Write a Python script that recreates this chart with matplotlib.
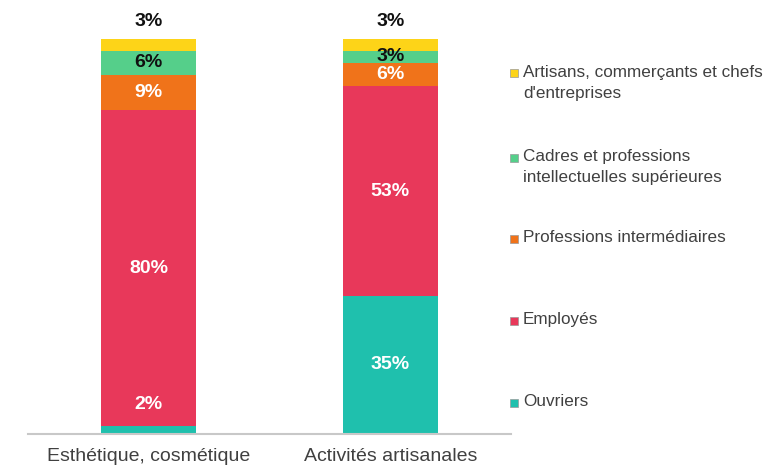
import matplotlib.pyplot as plt
from matplotlib.patches import Rectangle

plt.rcParams['font.family'] = ['Liberation Sans', 'DejaVu Sans']

# --------------------------------------------------
# données
# --------------------------------------------------
categories = ["Esthétique, cosmétique", "Activités artisanales"]
series = ["Ouvriers", "Employés", "Professions intermédiaires",
          "Cadres et professions\nintellectuelles supérieures",
          "Artisans, commerçants et chefs\nd'entreprises"]
ouvriers = [2, 35]
employes = [80, 53]
prof_inter = [9, 6]
cadres = [6, 3]
artisans = [3, 3]

colors = ["#1fc0ad", "#e8385a", "#f0731a", "#55cf8a", "#fdd418"]
label_colors = ["white", "white", "white", "#111111", "#111111"]

values = [ouvriers, employes, prof_inter, cadres, artisans]

fig = plt.figure(figsize=(7.79, 4.67), dpi=100)
ax = fig.add_axes([28 / 779, 33 / 467, 483 / 779, 395 / 467])

x = list(range(len(categories)))
width = 0.395
bottom = [0, 0]
for k, (vals, col) in enumerate(zip(values, colors)):
    ax.bar(x, vals, width, bottom=bottom, color=col, edgecolor="none")
    for i, v in enumerate(vals):
        y = bottom[i] + v / 2
        if k == 0 and v < 5:
            # petite part : étiquette posée dans la barre au-dessus
            y = bottom[i] + v + 5.5
        if k == len(values) - 1:
            # dernière part : étiquette au-dessus de la barre
            y = bottom[i] + v + 4.5
        ax.text(x[i], y, f"{v}%", ha="center", va="center",
                fontsize=14, fontweight="bold", color=label_colors[k],
                clip_on=False)
    bottom = [b + v for b, v in zip(bottom, vals)]

ax.set_xlim(-0.5, 1.5)
ax.set_ylim(0, 100)
ax.set_yticks([])
ax.set_xticks(x)
ax.set_xticklabels(categories, fontsize=14, color="#404040")
ax.tick_params(axis="x", length=0, pad=10)
for s in ["top", "right", "left"]:
    ax.spines[s].set_visible(False)
ax.spines["bottom"].set_color("#c8c8c8")
ax.spines["bottom"].set_linewidth(1.5)

# légende (ordre inversé, espacement régulier)
leg_y = [73, 157, 238, 320, 402]
for j, k in enumerate(reversed(range(len(series)))):
    yy = 1 - leg_y[j] / 467
    fig.patches.append(Rectangle((510 / 779, yy - 4.5 / 467), 8 / 779, 8 / 467,
                                 transform=fig.transFigure, facecolor=colors[k],
                                 edgecolor="#999999", linewidth=0.5))
    fig.text(523 / 779, yy + 8 / 467, series[k], fontsize=12.3, color="#404040",
             va="top", ha="left", linespacing=1.5)

fig.savefig("out.png", dpi=100)
